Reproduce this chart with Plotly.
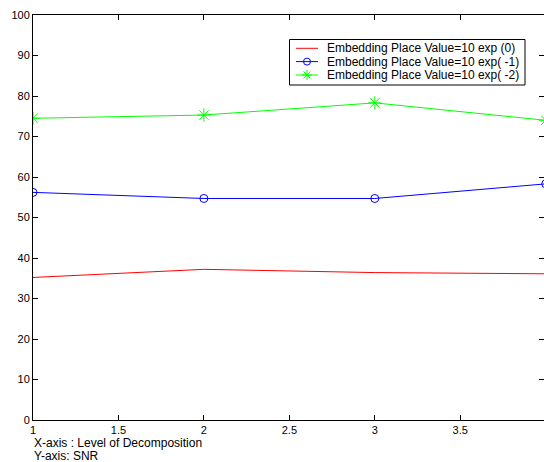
import plotly.graph_objects as go

levels = [1, 2, 3, 4]
snr_exp0 = [35.2, 37.2, 36.4, 36.1]
snr_exp_m1 = [56.2, 54.7, 54.7, 58.3]
snr_exp_m2 = [74.5, 75.3, 78.3, 74.0]

names = ["Embedding Place Value=10 exp (0)",
         "Embedding Place Value=10 exp( -1)",
         "Embedding Place Value=10 exp( -2)"]
colors = ["#FF0000", "#0000FF", "#00FF00"]
x_ticks = [1, 1.5, 2, 2.5, 3, 3.5]
x_tick_text = ["1", "1.5", "2", "2.5", "3", "3.5"]
y_ticks = list(range(0, 101, 10))

font = "Liberation Sans, Arial, sans-serif"

W, H = 544, 462
ML, MR, MT, MB = 33, 0, 15, 42
PW, PH = W - ML - MR, H - MT - MB


def fx(px):
    return (px - ML) / PW


def fy(py):
    return (H - MB - py) / PH


fig = go.Figure()
fig.add_trace(go.Scatter(x=levels, y=snr_exp0, mode="lines", name=names[0],
                         line=dict(color=colors[0], width=1)))
fig.add_trace(go.Scatter(x=levels, y=snr_exp_m1, mode="lines+markers", name=names[1],
                         line=dict(color=colors[1], width=1),
                         marker=dict(symbol="circle-open", size=8, color=colors[1],
                                     line=dict(width=1, color=colors[1]))))
fig.add_trace(go.Scatter(x=levels, y=snr_exp_m2, mode="lines+markers", name=names[2],
                         line=dict(color=colors[2], width=1),
                         marker=dict(symbol="asterisk-open", size=11, color=colors[2],
                                     line=dict(width=1, color=colors[2]))))

axis_common = dict(showgrid=False, zeroline=False, showline=True, linecolor="#000000",
                   linewidth=1, mirror="ticks", ticks="inside", ticklen=5,
                   tickcolor="#000000", automargin=False,
                   tickfont=dict(family=font, size=11, color="#000000"))

fig.update_xaxes(range=[1, 3.99], tickvals=x_ticks, ticktext=x_tick_text, **axis_common)
fig.update_yaxes(range=[0, 100], tickvals=y_ticks, **axis_common)

# manual legend (MATLAB-style compact box)
shapes = []
box = dict(x0=289.5, x1=525, y0=39.5, y1=85)
shapes.append(dict(type="rect", xref="paper", yref="paper",
                   x0=fx(box["x0"]), x1=fx(box["x1"]), y0=fy(box["y1"]), y1=fy(box["y0"]),
                   line=dict(color="#000000", width=1), fillcolor="#FFFFFF", layer="above"))
row_y = [48.3, 61.6, 75.0]
for i, (nm, c) in enumerate(zip(names, colors)):
    yy = fy(row_y[i])
    shapes.append(dict(type="line", xref="paper", yref="paper",
                       x0=fx(296), x1=fx(318), y0=yy, y1=yy,
                       line=dict(color=c, width=1), layer="above"))
    fig.add_annotation(text=nm, xref="paper", yref="paper", x=fx(325), y=yy,
                       xanchor="left", yanchor="middle", showarrow=False,
                       font=dict(family=font, size=12, color="#000000"))
# legend glyphs
mx = fx(307)
shapes.append(dict(type="circle", xref="paper", yref="paper", xsizemode="pixel",
                   ysizemode="pixel", xanchor=mx, yanchor=fy(row_y[1]),
                   x0=-3.5, x1=3.5, y0=-3.5, y1=3.5,
                   line=dict(color=colors[1], width=1), fillcolor="rgba(0,0,0,0)",
                   layer="above"))
shapes.append(dict(type="path", xref="paper", yref="paper", xsizemode="pixel",
                   ysizemode="pixel", xanchor=mx, yanchor=fy(row_y[2]),
                   path="M-5,0 L5,0 M0,-5 L0,5 M-3.5,-3.5 L3.5,3.5 M-3.5,3.5 L3.5,-3.5",
                   line=dict(color=colors[2], width=1), layer="above"))

fig.add_annotation(text="X-axis : Level of Decomposition", xref="paper", yref="paper",
                   x=fx(32), y=fy(443), xanchor="left", yanchor="middle", showarrow=False,
                   font=dict(family=font, size=12, color="#000000"))
fig.add_annotation(text="Y-axis: SNR", xref="paper", yref="paper",
                   x=fx(32), y=fy(455.5), xanchor="left", yanchor="middle", showarrow=False,
                   font=dict(family=font, size=12, color="#000000"))

fig.update_layout(
    width=W, height=H,
    margin=dict(l=ML, r=MR, t=MT, b=MB),
    paper_bgcolor="#FFFFFF", plot_bgcolor="#FFFFFF",
    font=dict(family=font, size=11, color="#000000"),
    showlegend=False,
    shapes=shapes,
)

fig.write_html("out.html",
               config={"displayModeBar": False},
               post_script="document.body.style.margin='0';"
                           "document.body.style.overflow='hidden';")
